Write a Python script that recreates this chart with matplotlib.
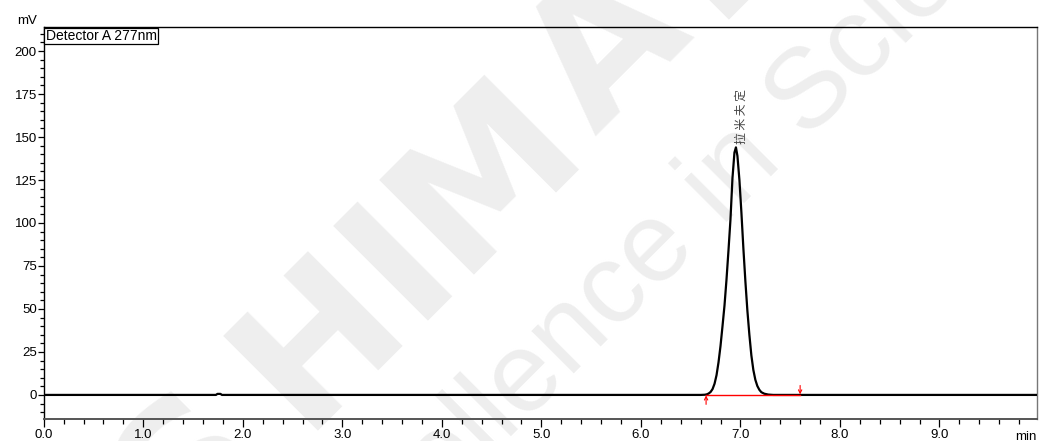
import numpy as np
import matplotlib
matplotlib.use("Agg")
import matplotlib.pyplot as plt
from matplotlib.ticker import MultipleLocator, FixedLocator

plt.rcParams['font.family'] = ['Liberation Sans', 'DejaVu Sans']

# chromatogram trace (min, mV)
t_trace = [0.00, 1.73, 1.745, 1.775, 1.79, 6.60, 6.64, 6.66, 6.68, 6.70,
           6.72, 6.74, 6.76, 6.78, 6.80, 6.82, 6.84, 6.86, 6.88, 6.90,
           6.92, 6.94, 6.955, 6.97, 6.99, 7.01, 7.03, 7.05, 7.07, 7.09,
           7.11, 7.13, 7.15, 7.17, 7.19, 7.21, 7.24, 7.28, 7.33, 9.98]
mv_trace = [0.0, 0.0, 0.6, 0.6, 0.0, 0.0, 0.1, 0.3, 0.8, 1.7,
            3.4, 6.5, 11.5, 19.0, 28.5, 40.0, 52.0, 67.0, 84.0, 102.0,
            126.0, 141.0, 144.0, 139.0, 125.0, 106.0, 85.0, 66.0, 49.0, 35.0,
            23.0, 14.5, 8.8, 5.2, 3.0, 1.6, 0.7, 0.2, 0.0, 0.0]

# peak info and integration baseline
peak_name = "拉米夫定"
peak_rt = 6.955
peak_height = 144.0
peak_start = 6.655
peak_end = 7.60

y_ticks = [0, 25, 50, 75, 100, 125, 150, 175, 200]
x_ticks = [0.0, 1.0, 2.0, 3.0, 4.0, 5.0, 6.0, 7.0, 8.0, 9.0]
x_ticklabels = ["0.0", "1.0", "2.0", "3.0", "4.0", "5.0", "6.0", "7.0", "8.0", "9.0"]

W, H = 1040, 441
fig = plt.figure(figsize=(W / 100, H / 100), dpi=100, facecolor='white')
ax = fig.add_axes([0.0421, 0.0499, 0.955, 0.8889])
ax.set_facecolor('none')

# watermark, laid letter by letter along a 45 degree baseline (pixels from top-left)
wm_color = '#eeeeee'
logo = "SHIMADZU"
logo_pos = [-195, -15, 98, 220, 395, 565, 720, 880]
for ch, u in zip(logo, logo_pos):
    px = (732 + u * np.sqrt(2)) / 2
    py = (732 - u * np.sqrt(2)) / 2
    fig.text(px / W, 1 - py / H, ch, rotation=45, rotation_mode='anchor',
             ha='center', va='baseline', fontsize=132, fontweight='bold',
             family='DejaVu Sans', color=wm_color, zorder=-1)
fig.text(0.297, -0.447, "Excellence in Science", rotation=45, rotation_mode='anchor',
         ha='left', va='baseline', fontsize=82, color=wm_color, zorder=-1)

ax.plot(t_trace, mv_trace, color='black', lw=1.6, zorder=3)
ax.plot([peak_start, peak_end], [0, 0], color='red', lw=1.0, zorder=4)
ax.annotate('', xy=(peak_start, -0.3), xytext=(peak_start, -5.5),
            arrowprops=dict(arrowstyle='->', color='red', lw=0.8,
                            shrinkA=0, shrinkB=0, mutation_scale=6))
ax.annotate('', xy=(peak_end, 0.3), xytext=(peak_end, 5.5),
            arrowprops=dict(arrowstyle='->', color='red', lw=0.8,
                            shrinkA=0, shrinkB=0, mutation_scale=6))

ax.text(peak_rt + 0.052, peak_height + 2, " ".join(peak_name), rotation=90,
        rotation_mode='anchor', ha='left', va='center', fontsize=8.5,
        color='#444444', family=['Noto Sans CJK SC', 'DejaVu Sans'])

ax.set_xlim(0, 9.98)
ax.set_ylim(-14, 214)

ax.yaxis.set_major_locator(FixedLocator(y_ticks))
ax.yaxis.set_minor_locator(MultipleLocator(5))
ax.xaxis.set_major_locator(FixedLocator(x_ticks))
ax.xaxis.set_minor_locator(MultipleLocator(0.2))
ax.set_xticklabels(x_ticklabels)

ax.tick_params(axis='y', which='major', direction='out', length=4.5, width=0.9,
               labelsize=9.5, pad=0.5)
ax.tick_params(axis='y', which='minor', direction='out', length=3, width=0.9)
ax.tick_params(axis='x', which='major', direction='out', length=6, width=0.9,
               labelsize=9.5, pad=1.5)
ax.tick_params(axis='x', which='minor', direction='out', length=3.5, width=0.9)

for s in ax.spines.values():
    s.set_linewidth(1.0)
    s.set_color('black')
ax.spines['right'].set_color('#777777')
ax.spines['bottom'].set_color('#555555')
ax.spines['bottom'].set_linewidth(1.4)

ax.text(-0.007, 1.0, "mV", transform=ax.transAxes, ha='right', va='bottom',
        fontsize=9.5)
ax.text(1.0, -0.03, "min", transform=ax.transAxes, ha='right', va='top',
        fontsize=9.5)
ax.annotate("Detector A 277nm", xy=(0, 1), xycoords='axes fraction',
            xytext=(1.5, -1.5), textcoords='offset points', ha='left', va='top',
            fontsize=10,
            bbox=dict(boxstyle='square,pad=0.1', fc='white', ec='black', lw=0.9))

fig.savefig("out.png", dpi=100, facecolor='white')
